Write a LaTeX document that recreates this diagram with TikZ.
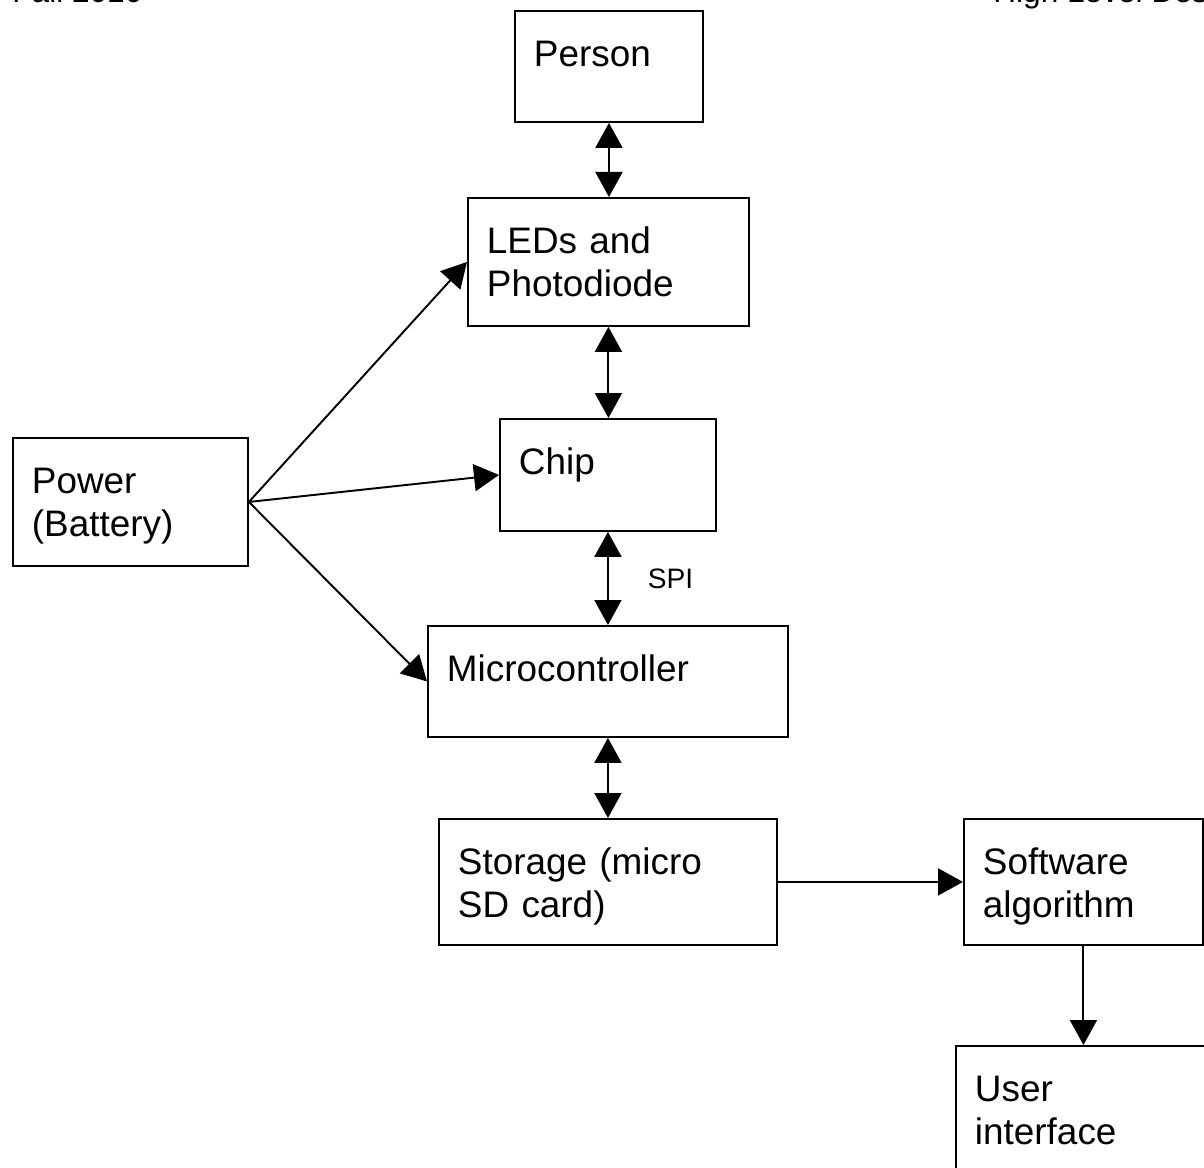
\documentclass[tikz,border=0pt]{standalone}
\usepackage{fontspec}
\setmainfont{Liberation Sans}
\usetikzlibrary{arrows.meta}

\tikzset{
  blk/.style={draw, line width=1.1pt, anchor=north west, align=left,
    inner xsep=0.38cm, inner ysep=0pt, text height=1.12cm,
    font=\fontsize{21}{24}\selectfont},
  blktip/.tip={Triangle[width=0.54cm,length=0.5cm]},
  dbl/.style={blktip-blktip, line width=1.1pt},
  sgl/.style={-blktip, line width=1.1pt}
}

\begin{document}
\begin{tikzpicture}[x=0.02cm, y=-0.02cm]
\useasboundingbox (0,0) rectangle (1204,1168);
% page header, cut off at the top
\node[anchor=base west, inner sep=0pt, font=\fontsize{18}{22}\selectfont] (date) at (12,3) {Fall 2010};
\node[anchor=base west, inner sep=0pt, font=\fontsize{18}{22}\selectfont] (title) at (993,3) {High Level Design};

\node[blk, text width=3.0cm, text depth=1.10cm] (person) at (514,10) {Person};
\node[blk, text width=4.86cm, text depth=1.44cm] (leds) at (467,197) {LEDs and\\Photodiode};
\node[blk, text width=3.56cm, text depth=1.12cm] (chip) at (499,418) {Chip};
\node[blk, text width=3.94cm, text depth=1.44cm] (power) at (12,437) {Power\\(Battery)};
\node[blk, text width=6.44cm, text depth=1.10cm] (micro) at (427,625) {Microcontroller};
\node[blk, text width=6.0cm, text depth=1.40cm] (storage) at (438,818) {Storage (micro\\SD card)};
\node[blk, text width=4.02cm, text depth=1.40cm] (soft) at (963,818) {Software\\algorithm};
\node[blk, text width=4.56cm, text depth=1.68cm] (user) at (955,1045) {User\\interface};

\draw[dbl] (person.south) -- (person.south |- leds.north);
\draw[dbl] (leds.south) -- (leds.south |- chip.north);
\draw[dbl] (chip.south) -- (chip.south |- micro.north)
  node[pos=0.5, anchor=west, inner sep=0pt, xshift=0.78cm, font=\fontsize{16}{19}\selectfont] (spi) {SPI};
\draw[dbl] (micro.south) -- (micro.south |- storage.north);

\draw[sgl] (power.east) -- (leds.west);
\draw[sgl] (power.east) -- (chip.west);
\draw[sgl] (power.east) -- (micro.west);
\draw[sgl] (storage.east) -- (soft.west);
\draw[sgl] (soft.south) -- (soft.south |- user.north);
\end{tikzpicture}
\end{document}
